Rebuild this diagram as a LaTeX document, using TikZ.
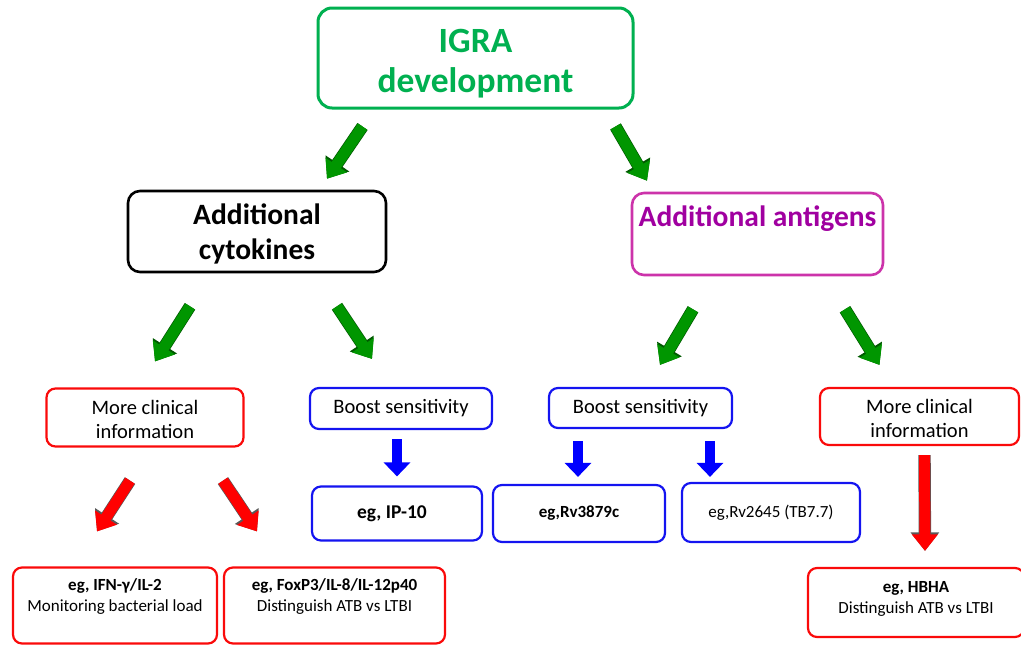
\documentclass[tikz,border=0pt]{standalone}
\usepackage{fontspec}
\setmainfont{Carlito}
\usepackage{xcolor}
\usepackage{tikz}
\usetikzlibrary{arrows.meta}
\definecolor{igragreen}{RGB}{0,176,80}
\definecolor{arrowgreen}{RGB}{0,150,0}
\definecolor{antiborder}{RGB}{204,51,170}
\definecolor{antitext}{RGB}{160,0,160}
\definecolor{boxred}{RGB}{250,10,10}
\definecolor{boxblue}{RGB}{20,20,240}
\tikzset{
    topbox/.style={rectangle, rounded corners=14pt, draw=igragreen, line width=3pt,
                   text=igragreen, align=center, inner sep=0pt,
                   font=\fontsize{35.5}{40}\selectfont\bfseries},
    catbox/.style={rectangle, rounded corners=12pt, line width=2.6pt, align=center,
                   inner sep=0pt, font=\fontsize{29.5}{35}\selectfont\bfseries},
    smallbox/.style={rectangle, rounded corners=9pt, line width=2.2pt, align=center,
                     inner sep=0pt, font=\fontsize{20.5}{24}\selectfont},
    egbox/.style={rectangle, rounded corners=9pt, line width=2.2pt, align=center,
                  inner sep=0pt, font=\fontsize{17}{21}\selectfont},
    fat/.style={preaction={draw=#1, line width=12.4pt,
                -{Triangle[width=27.5pt,length=18.5pt]}},
                line width=11pt, -{Triangle[width=25pt,length=16.5pt]}},
    garrow/.style={fat=green!35!black, draw=arrowgreen},
    rarrow/.style={fat=black!65, draw=red},
    barrow/.style={draw=blue, line width=10pt, -{Triangle[width=26pt,length=14pt]}}
}

\begin{document}
\begin{tikzpicture}[x=1pt, y=-1pt]
    \useasboundingbox (0,0) rectangle (1021,646);

    % Top
    \node[topbox, minimum width=315pt, minimum height=100pt] (igra) at (475.5,58) {\mbox{}\\[-5.5pt]IGRA\\development};

    % Categories
    \node[catbox, draw=black, minimum width=258pt, minimum height=81pt] (cyto) at (257,231.5) {\mbox{}\\[-10pt]Additional\\cytokines};
    \node[catbox, draw=antiborder, text=antitext, minimum width=251pt, minimum height=82pt] (anti) at (757.5,234) {Additional antigens\\\mbox{}};

    % Aims
    \node[smallbox, draw=boxred, minimum width=197pt, minimum height=58pt] (mci1) at (145,417.5) {\mbox{}\\[-5.5pt]More clinical\\information};
    \node[smallbox, draw=boxblue, minimum width=182pt, minimum height=41pt] (boost1) at (401,408.5) {Boost sensitivity};
    \node[smallbox, draw=boxblue, minimum width=183pt, minimum height=40pt] (boost2) at (640.5,408) {Boost sensitivity};
    \node[smallbox, draw=boxred, minimum width=199pt, minimum height=57pt] (mci2) at (919.5,416.5) {\mbox{}\\[-5.5pt]More clinical\\information};

    % Examples
    \node[egbox, draw=boxblue, minimum width=170pt, minimum height=54pt] (ip10) at (397,513.5) {\fontsize{19.5}{23}\selectfont\bfseries eg, IP-10\hspace{10pt}};
    \node[egbox, draw=boxblue, minimum width=172pt, minimum height=57pt] (rv3879) at (579,513.5) {\bfseries eg,Rv3879c};
    \node[egbox, draw=boxblue, minimum width=178pt, minimum height=59pt] (rv2645) at (771,512.5) {eg,Rv2645 (TB7.7)};
    \node[egbox, draw=boxred, minimum width=204pt, minimum height=76pt] (ifn) at (115,605.5) {\textbf{eg, IFN-γ/IL-2}\\Monitoring bacterial load\\[0pt]\mbox{}};
    \node[egbox, draw=boxred, minimum width=221pt, minimum height=76pt] (fox) at (334.5,605.5) {\textbf{eg, FoxP3/IL-8/IL-12p40}\\Distinguish ATB vs LTBI\\[0pt]\mbox{}};
    \node[egbox, draw=boxred, minimum width=216pt, minimum height=69pt] (hbha) at (916,602.5) {\textbf{eg, HBHA}\\Distinguish ATB vs LTBI\\[-10pt]\mbox{}};

    % Arrows
    \draw[garrow] ([shift={(-113,17)}]igra.south) -- ([shift={(70,-11)}]cyto.north);
    \draw[garrow] ([shift={(140,17)}]igra.south) -- ([shift={(-110.5,-11)}]anti.north);
    \draw[garrow] ([shift={(-67,33)}]cyto.south) -- ([shift={(10,-26)}]mci1.north);
    \draw[garrow] ([shift={(80,33)}]cyto.south) -- ([shift={(-29,-28)}]boost1.north);
    \draw[garrow] ([shift={(-64.5,33)}]anti.south) -- ([shift={(19.5,-22)}]boost2.north);
    \draw[garrow] ([shift={(87.5,33)}]anti.south) -- ([shift={(-40,-22)}]mci2.north);
    \draw[barrow] ([shift={(-4,9)}]boost1.south) -- ([shift={(0,-9)}]ip10.north);
    \draw[barrow] ([shift={(-62.5,12)}]boost2.south) -- ([shift={(-1,-7)}]rv3879.north);
    \draw[barrow] ([shift={(69.5,12)}]boost2.south) -- ([shift={(-61,-5)}]rv2645.north);
    \draw[rarrow] ([shift={(-15,33)}]mci1.south) -- ([shift={(-18,-35)}]ifn.north);
    \draw[rarrow] ([shift={(78,33)}]mci1.south) -- ([shift={(-77.5,-35)}]fox.north);
    \draw[rarrow] ([shift={(5,9)}]mci2.south) -- ([shift={(9,-16)}]hbha.north);
\end{tikzpicture}
\end{document}
